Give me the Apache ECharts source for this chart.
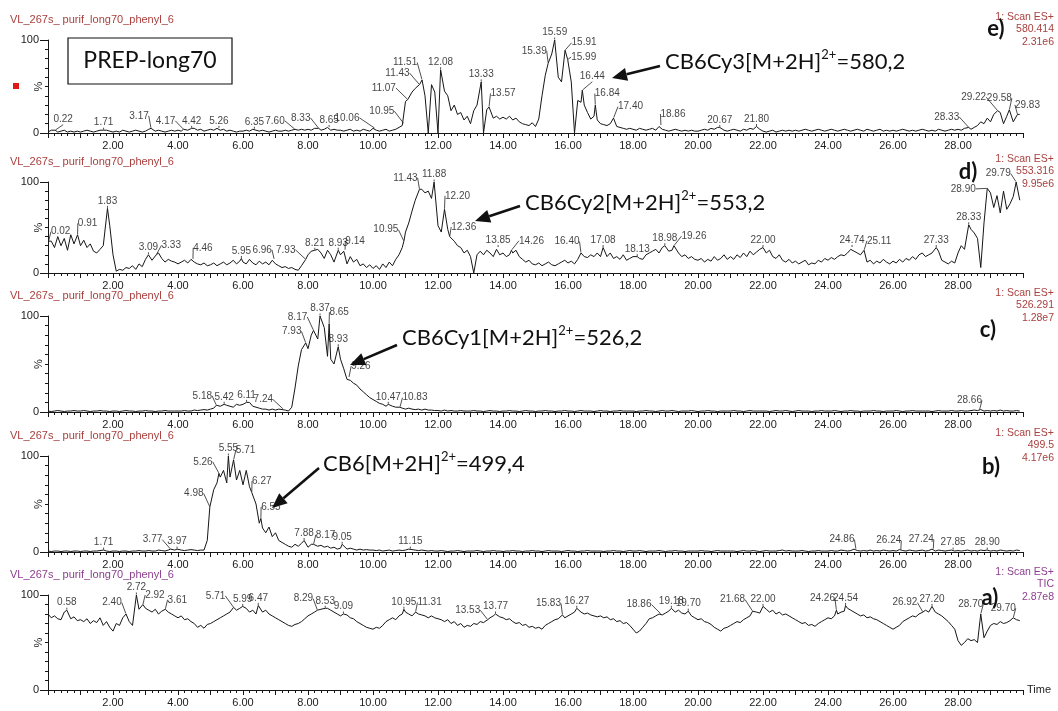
<!DOCTYPE html>
<html>
<head>
<meta charset="utf-8">
<script src="https://cdn.jsdelivr.net/npm/echarts@6/dist/echarts.min.js"></script>
<style>
  html, body { margin: 0; padding: 0; background: #fff; }
  #chart { width: 1058px; height: 711px; }
</style>
</head>
<body>
<div id="chart"></div>
<script>
// Chromatogram traces, relative intensity (%), one reading every 0.1 min from 0.0 min.
const STEP = 0.1;
const FILE_NAME = 'VL_267s_ purif_long70_phenyl_6';

// e) 1: Scan ES+ 580.414
const traceE = [
  1,3,2,1,2,3,1,2,1,2,   1,2,3,2,1,2,3,2,3,2,   1,2,1,3,2,1,2,3,2,1,   2,4,3,2,3,2,1,2,3,2,
  3,2,4,3,4,5,3,4,2,3,   4,3,5,3,4,2,3,2,1,2,   2,3,2,4,3,2,3,2,1,2,   3,2,2,3,2,3,4,3,4,3,
  4,3,5,4,3,4,6,3,4,3,   3,2,3,4,2,3,2,4,3,2,   5,3,2,3,4,2,3,4,6,8,   34,33,44,48,52,56,40,0,52,44,
  0,2,45,40,24,30,20,22,14,18,   10,24,30,5,0,25,20,16,18,15,   17,15,18,14,16,12,10,9,8,11,
  7,15,40,62,70,85,52,60,55,45,  35,55,0,35,33,30,22,15,18,14,  10,9,8,10,16,7,6,5,4,5,
  4,3,5,4,3,4,5,3,7,4,   3,2,3,4,3,2,3,2,3,2,   2,3,4,3,5,4,6,4,3,2,   3,4,3,2,4,3,5,4,6,4,
  2,1,2,3,1,2,3,2,3,2,   3,2,3,4,3,2,3,4,3,2,   3,4,3,2,3,4,3,2,3,4,   3,2,4,3,2,3,4,2,3,2,
  3,2,3,4,3,2,3,2,3,4,   3,2,3,2,4,3,2,3,4,3,   4,3,5,6,4,6,8,12,10,16, 12,20,14,22,10,18,24,12,8,20
];
const peaksE = [
  [0.22,3],[1.71,3],[3.17,5],[4.17,4],[4.42,5],[5.26,5],[6.35,4],[7.60,4],[8.33,5],[8.65,6],
  [10.06,5],[10.95,10],[11.07,36],[11.43,52],[11.51,57],[12.08,68],[13.33,55],[13.57,28],
  [15.39,75],[15.59,100],[15.91,89],[15.99,79],[16.44,46],[16.84,30],[17.40,16],[18.86,8],
  [20.67,6],[21.80,7],[28.33,6],[29.22,24],[29.58,25],[29.83,20]
];

// d) 1: Scan ES+ 553.316
const traceD = [
  20,35,28,40,30,38,25,42,32,38,   30,36,28,32,24,22,26,30,45,52,   20,2,4,3,6,5,8,4,10,7,
  15,20,14,18,22,16,12,15,13,12,   10,12,14,11,15,12,10,9,11,8,     9,11,8,10,12,9,11,14,10,13,
  12,10,15,11,9,13,10,12,9,14,     10,8,6,7,5,6,4,3,8,12,           20,24,18,26,22,16,25,20,12,22,
  20,24,10,18,12,15,8,10,6,9,      5,8,4,10,6,12,8,15,20,28,        45,55,68,80,90,92,88,90,82,60,
  52,45,60,48,42,35,30,28,22,25,   18,0,20,24,20,25,22,18,26,20,    22,18,20,22,25,18,15,12,14,10,
  9,11,8,10,12,9,8,10,12,14,       11,13,10,15,16,18,17,20,18,22,   18,20,18,22,16,18,15,20,14,16,
  18,14,16,15,20,22,24,26,22,28,   26,24,25,30,22,18,20,16,18,15,   14,16,12,15,13,18,14,16,20,15,
  18,15,20,17,22,18,24,20,23,26,   28,22,25,18,16,20,14,12,15,11,   13,10,12,14,9,11,10,14,12,16,
  14,17,15,18,20,19,22,26,24,22,   20,25,12,14,10,13,11,15,12,10,   13,11,15,12,16,14,18,15,20,22,
  18,20,22,28,24,14,12,10,13,11,   22,30,26,40,48,44,38,6,55,70,    88,72,85,66,90,70,76,84,60,80
];
const peaksD = [
  [0.02,35],[0.91,42],[1.83,71],[3.09,20],[3.33,20],[4.46,15],[5.95,16],[6.96,15],[7.93,15],
  [8.21,25],[8.93,25],[9.14,25],[10.95,35],[11.43,92],[11.88,100],[12.20,70],[12.36,40],
  [13.85,28],[14.26,25],[16.40,22],[17.08,28],[18.13,18],[18.98,30],[19.26,30],[22.00,28],
  [24.74,28],[25.11,25],[27.33,28],[28.33,53],[28.90,93],[29.79,100]
];

// c) 1: Scan ES+ 526.291
const traceC = [
  1,0.5,1,1.5,1,0.5,1,1,1.5,1,   1,1.5,1,0.5,1,1,1.5,1,1,0.5,   1,1,0.5,1,1.5,1,1,0.5,1,1,
  1.5,1,1,0.5,1,1,1.5,1,1,1,     1,1,1.5,1,1,2,1.5,2,2.5,2,     3,4,5,6,5,7,6,5,8,7,
  8,9,10,6,5,4,3,3,2,3,          2,3,2.5,2,1,5,25,48,65,70,     66,80,75,76,95,88,58,55,50,60,
  55,45,34,33,30,28,24,21,18,15, 13,11,9,8,6,7,6,5,4,4,         3,4,3,2.5,3,2,3,2,2,1.5,
  1.5,1,2,1,1.5,1,1,1.5,1,1,     1,1.5,1,1,0.5,1,1.5,1,1,0.5,   1,1,1.5,1,1,0.5,1,1.5,1,1,
  0.5,1,1,1.5,1,1,0.5,1,1,1.5,   1,1,0.5,1,1.5,1,1,1,0.5,1,     1.5,1,1,0.5,1,1,1.5,1,1,1,
  1,0.5,1,1,1.5,1,1,0.5,1,1.5,   1,1,1.5,1,0.5,1,1,1,1.5,1,     0.5,1,1,1.5,1,1,0.5,1,1,1,
  1,1.5,1,1,0.5,1,1.5,1,1,1,     1,1,0.5,1,1.5,1,1,1.5,1,0.5,   1,1.5,1,1,1,0.5,1,1,1.5,1,
  1,1,1.5,1,0.5,1,1,1.5,1,1,     0.5,1,1,1,1.5,1,1,0.5,1,1,     1,1.5,1,0.5,1,1,1.5,1,1,1,
  1,1,0.5,1,1.5,1,1,1,1.5,1,     1,1.5,1,1,1.5,2,1.5,2.5,1,1.5, 1,1.5,1,2,1,1.5,1,1,1.5,1
];
const peaksC = [
  [5.18,7],[5.42,8],[6.11,10],[7.24,3],[7.93,72],[8.17,85],[8.37,100],[8.65,92],[8.93,68],
  [9.26,36],[10.47,8],[10.83,5],[28.66,2]
];

// b) 1: Scan ES+ 499.5
const traceB = [
  1,0.5,1,1,0.5,1,1,0.5,1,1,     0.5,1,1,0.5,1,1,1.5,1,1,0.5,   1,1,0.5,1,1,0.5,1,1,1.5,1,
  1,1.5,1,1,2,1.5,1,2,1.5,2,     1.5,2,1.5,2,2.5,2,1.5,2,2,12,  50,65,72,78,85,72,78,90,75,85,
  70,85,68,55,50,30,25,20,26,16, 20,12,10,8,6,5,8,6,9,10,       5,8,4,6,7,5,6,4,5,3,
  4,6,3,4,3,2,3,2,2.5,2,         2,1.5,2,1,1.5,2,1,1.5,2,1.5,   2,3,2.5,2,1.5,2,1.5,1,1.5,1,
  1,1.5,1,0.5,1,1,1.5,1,0.5,1,   1,1,1.5,1,0.5,1,1,1.5,1,1,     0.5,1,1,1.5,1,1,0.5,1,1,1.5,
  1,1,0.5,1,1.5,1,1,1,0.5,1,     1.5,1,1,0.5,1,1,1.5,1,1,1,     1,0.5,1,1,1.5,1,1,0.5,1,1.5,
  1,1,1.5,1,0.5,1,1,1,1.5,1,     0.5,1,1,1.5,1,1,0.5,1,1,1,     1,1.5,1,1,0.5,1,1.5,1,1,1,
  1,1,0.5,1,1.5,1,1,1.5,1,0.5,   1,1.5,1,1,1,1.5,2,1,1.5,1,     1,1,1.5,1,0.5,1,1,1.5,1,1,
  1,1.5,1,1,2,1.5,1,1.5,3,1.5,   1,1.5,1,2,1,1.5,1,2,1.5,1,     1.5,1,2.5,1.5,1,2,1.5,1,1.5,2,
  1,1.5,3,1,2,1.5,1,1.5,2,1,     1.5,1,1.5,2,1,1.5,1,2,1.5,2,   1,1.5,1,2,1.5,1,1.5,1,2,1.5
];
const peaksB = [
  [1.71,2],[3.77,3],[3.97,3],[4.98,47],[5.26,82],[5.55,100],[5.71,96],[6.27,62],[6.55,35],
  [7.88,12],[8.17,8],[9.05,8],[11.15,3],[24.86,3],[26.24,2],[27.24,3],[27.85,2],[28.90,2]
];

// a) 1: Scan ES+ TIC
const traceA = [
  80,76,78,75,74,82,78,75,77,73,   74,72,75,70,73,71,76,68,72,66,   62,70,68,76,78,72,68,95,85,88,
  86,84,82,85,80,83,78,82,80,78,   76,78,74,75,72,70,66,68,65,69,   70,72,74,76,78,80,82,85,84,86,
  84,86,82,84,80,86,82,84,80,78,   76,74,72,70,68,67,69,70,72,75,   78,80,82,83,85,84,86,84,82,80,
  78,80,79,76,75,72,70,68,66,65,   64,66,65,68,72,74,76,74,78,80,   82,80,78,82,80,79,78,76,78,76,
  75,74,72,74,70,72,68,70,66,68,   67,70,69,72,71,74,76,78,80,77,   76,74,75,72,70,71,68,69,66,67,
  65,66,64,68,70,72,74,75,78,76,   78,80,82,84,82,80,81,79,78,77,   78,76,77,74,75,72,73,70,71,68,
  64,60,62,66,70,75,76,78,80,79,   81,83,85,82,84,81,80,83,78,76,   74,75,72,71,69,66,64,62,65,66,
  68,70,72,71,74,76,78,80,82,81,   84,85,82,84,80,82,79,80,78,76,   74,72,70,71,68,69,67,70,72,74,
  76,75,78,80,82,83,86,84,82,80,   78,79,76,77,75,74,72,70,68,66,   64,66,68,72,74,76,78,77,80,82,
  84,82,86,82,80,78,75,72,68,64,   52,47,50,54,52,53,50,60,55,62,   68,70,69,72,70,71,73,75,74,73
];
const peaksA = [
  [0.58,84],[2.40,80],[2.72,100],[2.92,90],[3.61,85],[5.71,87],[5.99,88],[6.47,89],[8.29,84],
  [8.53,86],[9.09,80],[10.95,85],[11.31,82],[13.53,74],[13.77,80],[15.83,79],[16.27,86],
  [18.86,80],[19.18,86],[19.70,83],[21.68,83],[22.00,88],[24.26,84],[24.54,89],[26.92,82],
  [27.20,88],[28.70,80],[29.70,76]
];

// Header lines printed at the right of each trace
const headerE = ['1: Scan ES+', '580.414', '2.31e6'];
const headerD = ['1: Scan ES+', '553.316', '9.95e6'];
const headerC = ['1: Scan ES+', '526.291', '1.28e7'];
const headerB = ['1: Scan ES+', '499.5', '4.17e6'];
const headerA = ['1: Scan ES+', 'TIC', '2.87e8'];

// Ion annotations: text before and after the 2+ charge superscript
const noteE = ['CB6Cy3[M+2H]', '=580,2'];
const noteD = ['CB6Cy2[M+2H]', '=553,2'];
const noteC = ['CB6Cy1[M+2H]', '=526,2'];
const noteB = ['CB6[M+2H]', '=499,4'];

// Label nudges (dx, dy in px) for crowded peak labels; a leader line is drawn for moved labels
const nudgeE = {'0.22':[8,-3],'3.17':[-12,-5],'4.17':[-18,-1],'7.60':[-20,-1],'8.33':[-18,-3],'10.06':[-28,-3],
  '10.95':[-22,-5],'11.07':[-24,-4],'11.43':[-22,-4],'11.51':[-17,-10],'13.57':[14,-6],'15.39':[-14,-5],
  '15.91':[19,0],'15.99':[16,5],'16.44':[10,-6],'16.84':[12,-4],'17.40':[17,-4],'18.86':[12,-4],
  '28.33':[-22,-3],'29.22':[-24,-6],'29.58':[-10,-4],'29.83':[10,-2]};
const nudgeD = {'0.02':[12,-2],'0.91':[10,-4],'3.33':[15,-2],'4.46':[10,-4],'6.96':[-12,-2],'7.93':[-20,-2],
  '9.14':[10,-2],'10.95':[-18,-4],'11.43':[-14,-4],'12.20':[13,-6],'12.36':[14,-2],'14.26':[20,-2],
  '16.40':[-14,-4],'19.26':[20,-2],'25.11':[15,-2],'28.90':[-24,8],'29.79':[-18,-1]};
const nudgeC = {'5.18':[-14,-2],'7.24':[-20,-2],'7.93':[-14,-4],'8.17':[-16,-6],'8.65':[10,-4],
  '9.26':[12,-4],'10.83':[15,-2],'28.66':[-10,-2]};
const nudgeB = {'3.77':[-18,-2],'4.98':[-16,-6],'5.26':[-16,-4],'5.71':[12,-2],'6.27':[10,-4],
  '6.55':[10,-4],'8.17':[12,-2],'24.86':[-14,-2],'26.24':[-12,-2],'27.24':[-12,-2]};
const nudgeA = {'2.40':[-14,-4],'2.92':[12,-2],'3.61':[12,-2],'5.71':[-18,-4],'8.29':[-14,-4],
  '11.31':[14,-2],'13.53':[-20,-2],'15.83':[-14,-4],'18.86':[-22,-2],'21.68':[-20,-4],
  '24.26':[-14,-4],'26.92':[-18,-2],'28.70':[-10,-2],'29.70':[-10,-2]};

const RED = '#a8403e';
const VIOLET = '#8d3f8f';
const INK = '#161616';

// Panels from top (e) to bottom (a)
const panels = [
  {trace: traceE, peaks: peaksE, header: headerE, nudge: nudgeE, tint: RED, top: 40, height: 93,
   letter: 'e)', letterAt: [996, 29], note: noteE, noteAt: [665, 62], arrow: [[660, 66], [612, 78]], box: true},
  {trace: traceD, peaks: peaksD, header: headerD, nudge: nudgeD, tint: RED, top: 182, height: 91,
   letter: 'd)', letterAt: [968, 172], note: noteD, noteAt: [525, 203], arrow: [[520, 206], [475, 221]]},
  {trace: traceC, peaks: peaksC, header: headerC, nudge: nudgeC, tint: RED, top: 316, height: 96,
   letter: 'c)', letterAt: [988, 330], note: noteC, noteAt: [402, 338], arrow: [[397, 345], [350, 365]]},
  {trace: traceB, peaks: peaksB, header: headerB, nudge: nudgeB, tint: RED, top: 456, height: 96,
   letter: 'b)', letterAt: [991, 467], note: noteB, noteAt: [323, 464], arrow: [[319, 468], [272, 508]]},
  {trace: traceA, peaks: peaksA, header: headerA, nudge: nudgeA, tint: VIOLET, top: 595, height: 95,
   letter: 'a)', letterAt: [990, 598]}
];

// Merge the regular readings with the labelled apex readings
function buildLine(trace, peaks) {
  const pts = [];
  trace.forEach((v, i) => {
    const t = Math.round(i * STEP * 100) / 100;
    if (peaks.some(p => Math.abs(p[0] - t) < 0.035)) return;
    pts.push([t, v]);
  });
  peaks.forEach(p => pts.push([p[0], p[1]]));
  pts.sort((a, b) => a[0] - b[0]);
  return pts;
}

const SMALL_FONT = '"Liberation Sans", Arial, sans-serif';
const NOTE_FONT = 'Lato, "Open Sans", sans-serif';
const LEFT = 48, RIGHT = 35;

const grid = [], xAxis = [], yAxis = [], series = [], graphic = [];

panels.forEach((p, i) => {
  const last = i === panels.length - 1;
  grid.push({left: LEFT, right: RIGHT, top: p.top, height: p.height,
             containLabel: false, outerBoundsMode: 'none'});
  xAxis.push({
    gridIndex: i, type: 'value', min: 0, max: 30, interval: 1,
    axisLine: {show: true, onZero: false, lineStyle: {color: INK, width: 1}},
    axisTick: {show: true, length: 5, lineStyle: {color: INK, width: 1}},
    minorTick: {show: true, splitNumber: 5, length: 3, lineStyle: {color: INK, width: 1}},
    splitLine: {show: false}, minorSplitLine: {show: false},
    axisLabel: {
      margin: 7, fontSize: 11, color: '#222', fontFamily: SMALL_FONT,
      formatter: v => (v > 0 && v < 30 && v % 2 === 0) ? v.toFixed(2) : ''
    },
    name: last ? 'Time' : '', nameLocation: 'end', nameGap: 4,
    nameTextStyle: {fontSize: 11, color: '#222', fontFamily: SMALL_FONT}
  });
  yAxis.push({
    gridIndex: i, type: 'value', min: 0, max: 100, interval: 100,
    axisLine: {show: true, lineStyle: {color: INK, width: 1}},
    axisTick: {show: true, length: 8, lineStyle: {color: INK, width: 1}},
    minorTick: {show: true, splitNumber: 10, length: 3, lineStyle: {color: INK, width: 1}},
    splitLine: {show: false}, minorSplitLine: {show: false},
    axisLabel: {margin: 9, fontSize: 11, color: '#222', fontFamily: SMALL_FONT}
  });

  series.push({
    type: 'line', xAxisIndex: i, yAxisIndex: i,
    data: buildLine(p.trace, p.peaks),
    showSymbol: false, symbol: 'none', silent: true,
    lineStyle: {color: INK, width: 1}, z: 3
  });

  series.push({
    type: 'scatter', xAxisIndex: i, yAxisIndex: i,
    data: p.peaks.map(q => [q[0], q[1]]),
    symbolSize: 1, itemStyle: {color: 'rgba(0,0,0,0)'}, silent: true, z: 4,
    label: {
      show: true, position: 'top', distance: 2, fontSize: 10, color: '#111',
      fontFamily: SMALL_FONT, formatter: d => d.value[0].toFixed(2)
    },
    labelLine: {show: true, length2: 0, lineStyle: {color: '#222', width: 0.8}},
    labelLayout: params => {
      const key = p.peaks[params.dataIndex][0].toFixed(2);
      const n = p.nudge[key];
      return n ? {dx: n[0], dy: n[1]} : {};
    }
  });

  // rotated percent sign beside the intensity axis
  graphic.push({
    type: 'text', x: 39, y: p.top + p.height / 2, rotation: Math.PI / 2, z: 10,
    style: {text: '%', fill: '#222', fontSize: 11, fontFamily: SMALL_FONT,
            align: 'center', textAlign: 'center', verticalAlign: 'middle', textVerticalAlign: 'middle'}
  });
  // file name above each trace
  graphic.push({
    type: 'text', x: 10, y: p.top - 20, z: 10,
    style: {text: FILE_NAME, fill: p.tint, fontSize: 11, fontFamily: SMALL_FONT,
            verticalAlign: 'middle', textVerticalAlign: 'middle'}
  });
  // function / mass / intensity block at the right
  p.header.forEach((line, k) => {
    graphic.push({
      type: 'text', x: 1054, y: p.top - 23 + k * 12.5, z: 10,
      style: {text: line, fill: p.tint, fontSize: 10.5, fontFamily: SMALL_FONT,
              align: 'right', textAlign: 'right', verticalAlign: 'middle', textVerticalAlign: 'middle'}
    });
  });
  // panel letter
  graphic.push({
    type: 'text', x: p.letterAt[0], y: p.letterAt[1], z: 10,
    style: {text: p.letter, fill: '#111', fontSize: 22, fontWeight: 'bold', fontFamily: NOTE_FONT,
            align: 'center', textAlign: 'center', verticalAlign: 'middle', textVerticalAlign: 'middle'}
  });

  if (p.note) {
    graphic.push({
      type: 'text', x: p.noteAt[0], y: p.noteAt[1], z: 10,
      style: {
        text: '{m|' + p.note[0] + '}{s|2+}{m|' + p.note[1] + '}',
        verticalAlign: 'middle', textVerticalAlign: 'middle',
        rich: {
          m: {fontSize: 22, fontFamily: NOTE_FONT, fill: '#111', color: '#111', lineHeight: 27},
          s: {fontSize: 13, fontFamily: NOTE_FONT, fill: '#111', color: '#111', lineHeight: 14, verticalAlign: 'top'}
        }
      }
    });
    const [tail, tip] = p.arrow;
    const dx = tip[0] - tail[0], dy = tip[1] - tail[1];
    const len = Math.hypot(dx, dy), ux = dx / len, uy = dy / len;
    const headLen = 15, headHalf = 6.5;
    const bx = tip[0] - ux * headLen, by = tip[1] - uy * headLen;
    graphic.push({
      type: 'line', z: 11,
      shape: {x1: tail[0], y1: tail[1], x2: bx, y2: by},
      style: {stroke: '#111', lineWidth: 2.6}
    });
    graphic.push({
      type: 'polygon', z: 11,
      shape: {points: [[tip[0], tip[1]], [bx - uy * headHalf, by + ux * headHalf], [bx + uy * headHalf, by - ux * headHalf]]},
      style: {fill: '#111'}
    });
  }
});

// method box and marker in the top trace
graphic.push({
  type: 'rect', z: 9, shape: {x: 68, y: 38, width: 164, height: 46},
  style: {fill: '#fff', stroke: '#111', lineWidth: 1.2}
});
graphic.push({
  type: 'text', x: 150, y: 61, z: 10,
  style: {text: 'PREP-long70', fill: '#111', fontSize: 23, fontFamily: NOTE_FONT,
          align: 'center', textAlign: 'center', verticalAlign: 'middle', textVerticalAlign: 'middle'}
});
graphic.push({
  type: 'rect', z: 10, shape: {x: 13, y: 83, width: 6, height: 6},
  style: {fill: '#e01a1a'}
});

const chart = echarts.init(document.getElementById('chart'), null, {renderer: 'canvas'});
chart.setOption({
  animation: false,
  backgroundColor: '#fff',
  grid, xAxis, yAxis, series, graphic
});
</script>
</body>
</html>
